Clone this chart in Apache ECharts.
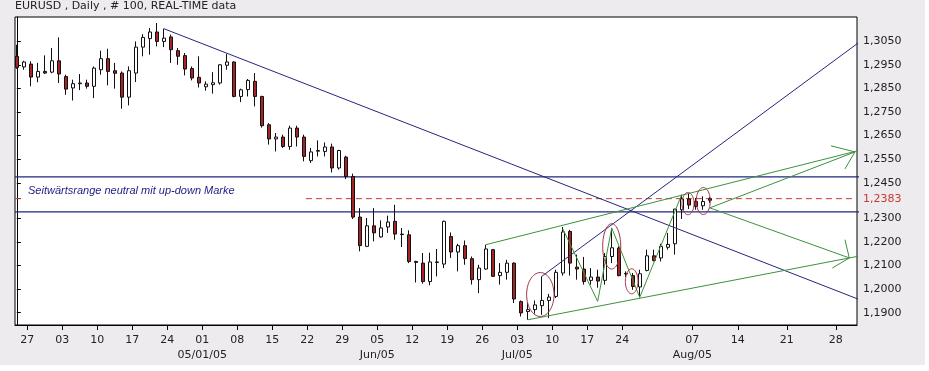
<!DOCTYPE html>
<html><head><meta charset="utf-8">
<script src="https://cdn.jsdelivr.net/npm/echarts@6/dist/echarts.min.js"></script>
<style>
html,body{margin:0;padding:0;background:#fff;}
#bg{position:absolute;left:0;top:0;width:925px;height:365px;background:#eeebee;}
#chart{position:absolute;left:0;top:0;width:929px;height:371px;}
</style></head>
<body><div id="bg"></div><div id="chart"></div>
<script>
// ---- categories: trading days (past) and calendar days (projection area)
const tradingDates = [
 '2005-03-24','2005-03-25',
 '2005-03-28','2005-03-29','2005-03-30','2005-03-31','2005-04-01',
 '2005-04-04','2005-04-05','2005-04-06','2005-04-07','2005-04-08',
 '2005-04-11','2005-04-12','2005-04-13','2005-04-14','2005-04-15',
 '2005-04-18','2005-04-19','2005-04-20','2005-04-21','2005-04-22',
 '2005-04-25','2005-04-26','2005-04-27','2005-04-28','2005-04-29',
 '2005-05-02','2005-05-03','2005-05-04','2005-05-05','2005-05-06',
 '2005-05-09','2005-05-10','2005-05-11','2005-05-12','2005-05-13',
 '2005-05-16','2005-05-17','2005-05-18','2005-05-19','2005-05-20',
 '2005-05-23','2005-05-24','2005-05-25','2005-05-26','2005-05-27',
 '2005-05-30','2005-05-31','2005-06-01','2005-06-02','2005-06-03',
 '2005-06-06','2005-06-07','2005-06-08','2005-06-09','2005-06-10',
 '2005-06-13','2005-06-14','2005-06-15','2005-06-16','2005-06-17',
 '2005-06-20','2005-06-21','2005-06-22','2005-06-23','2005-06-24',
 '2005-06-27','2005-06-28','2005-06-29','2005-06-30','2005-07-01',
 '2005-07-04','2005-07-05','2005-07-06','2005-07-07','2005-07-08',
 '2005-07-11','2005-07-12','2005-07-13','2005-07-14','2005-07-15',
 '2005-07-18','2005-07-19','2005-07-20','2005-07-21','2005-07-22',
 '2005-07-25','2005-07-26','2005-07-27','2005-07-28','2005-07-29',
 '2005-08-01','2005-08-02','2005-08-03','2005-08-04','2005-08-05',
 '2005-08-08','2005-08-09','2005-08-10'
];
const futureDates = [
 '2005-08-11','2005-08-12','2005-08-13','2005-08-14','2005-08-15','2005-08-16','2005-08-17',
 '2005-08-18','2005-08-19','2005-08-20','2005-08-21','2005-08-22','2005-08-23','2005-08-24',
 '2005-08-25','2005-08-26','2005-08-27','2005-08-28','2005-08-29','2005-08-30','2005-08-31'
];

// ---- series values (EURUSD daily OHLC)
const opens = [1.2986,1.2941,1.2953,1.2898,1.2922,1.2919,1.2967,1.2900,1.2852,1.2870,
1.2873,1.2859,1.2929,1.2976,1.2925,1.2915,1.2813,1.2915,1.3025,1.3061,
1.3089,1.3049,1.3068,1.3010,1.2989,1.2934,1.2897,1.2857,1.2866,1.2873,
1.2948,1.2962,1.2816,1.2845,1.2880,1.2816,1.2696,1.2636,1.2644,1.2604,
1.2682,1.2644,1.2544,1.2584,1.2583,1.2602,1.2513,1.2559,1.2477,1.2305,
1.2181,1.2268,1.2221,1.2263,1.2287,1.2233,1.2230,1.2117,1.2110,1.2032,
1.2115,1.2106,1.2223,1.2157,1.2184,1.2129,1.2040,1.2085,1.2167,1.2057,
1.2071,1.2110,1.1947,1.1905,1.1913,1.1930,1.1952,1.1969,1.2068,1.2244,
1.2093,1.2085,1.2037,1.2051,1.2037,1.2138,1.2174,1.2066,1.2057,1.2009,
1.2079,1.2141,1.2132,1.2177,1.2192,1.2336,1.2382,1.2371,1.2353,1.2383];
const closes = [1.2939,1.2962,1.2898,1.2922,1.2915,1.2967,1.2911,1.2847,1.2870,1.2873,
1.2859,1.2936,1.2976,1.2922,1.2914,1.2813,1.2925,1.3025,1.3066,1.3089,
1.3049,1.3063,1.3014,1.2986,1.2932,1.2894,1.2873,1.2868,1.2874,1.2950,
1.2962,1.2816,1.2844,1.2884,1.2816,1.2692,1.2636,1.2644,1.2604,1.2682,
1.2644,1.2562,1.2581,1.2587,1.2602,1.2513,1.2587,1.2477,1.2305,1.2184,
1.2268,1.2238,1.2259,1.2284,1.2233,1.2231,1.2117,1.2113,1.2032,1.2115,
1.2113,1.2287,1.2157,1.2184,1.2129,1.2040,1.2089,1.2170,1.2054,1.2071,
1.2110,1.1958,1.1899,1.1913,1.1933,1.1952,1.1966,1.2071,1.2242,1.2110,
1.2085,1.2032,1.2051,1.2034,1.2138,1.2175,1.2057,1.2064,1.2011,1.2065,
1.2141,1.2121,1.2181,1.2189,1.2339,1.2382,1.2356,1.2350,1.2371,1.2376];
const lows = [1.2933,1.2929,1.2859,1.2876,1.2912,1.2914,1.2873,1.2823,1.2799,1.2843,
1.2849,1.2809,1.2908,1.2863,1.2849,1.2764,1.2778,1.2877,1.2986,1.2993,
1.3028,1.3025,1.2958,1.2950,1.2905,1.2884,1.2854,1.2840,1.2828,1.2866,
1.2929,1.2812,1.2792,1.2816,1.2774,1.2684,1.2612,1.2583,1.2598,1.2590,
1.2604,1.2541,1.2534,1.2562,1.2562,1.2494,1.2506,1.2466,1.2297,1.2160,
1.2178,1.2202,1.2218,1.2238,1.2209,1.2178,1.2110,1.2028,1.2023,1.2016,
1.2054,1.2089,1.2132,1.2075,1.2103,1.2019,1.1983,1.2082,1.2051,1.2019,
1.2040,1.1941,1.1884,1.1870,1.1896,1.1891,1.1877,1.1962,1.2057,1.2057,
1.2040,1.2019,1.2019,1.2006,1.2019,1.2110,1.2054,1.2051,1.1997,1.1965,
1.2075,1.2117,1.2117,1.2167,1.2146,1.2297,1.2339,1.2336,1.2336,1.2365];
const highs = [1.3035,1.2967,1.2965,1.2958,1.2990,1.3021,1.3066,1.2908,1.2887,1.2911,
1.2887,1.2943,1.3010,1.3018,1.2958,1.2922,1.2943,1.3049,1.3080,1.3106,
1.3127,1.3103,1.3078,1.3021,1.3000,1.2943,1.2986,1.2880,1.2919,1.2953,
1.2996,1.2965,1.2849,1.2890,1.2915,1.2819,1.2703,1.2661,1.2654,1.2692,
1.2692,1.2654,1.2598,1.2630,1.2621,1.2616,1.2590,1.2565,1.2489,1.2343,
1.2301,1.2343,1.2291,1.2311,1.2357,1.2259,1.2249,1.2120,1.2153,1.2154,
1.2170,1.2290,1.2240,1.2192,1.2206,1.2138,1.2103,1.2188,1.2170,1.2110,
1.2124,1.2113,1.1952,1.1941,1.1952,1.2054,1.1980,1.2082,1.2263,1.2251,
1.2146,1.2136,1.2089,1.2082,1.2153,1.2259,1.2181,1.2075,1.2068,1.2082,
1.2167,1.2167,1.2192,1.2238,1.2340,1.2400,1.2404,1.2386,1.2393,1.2390];

// ---- tick labels
const tickDates = ['2005-03-27','2005-04-03','2005-04-10','2005-04-17','2005-04-24','2005-05-01',
 '2005-05-08','2005-05-15','2005-05-22','2005-05-29','2005-06-05','2005-06-12','2005-06-19',
 '2005-06-26','2005-07-03','2005-07-10','2005-07-17','2005-07-24','2005-08-07','2005-08-14',
 '2005-08-21','2005-08-28'];
const monthLabels = {'2005-05-01':'05/01/05','2005-06-05':'Jun/05','2005-07-03':'Jul/05','2005-08-07':'Aug/05'};
const yTickValues = [1.19,1.20,1.21,1.22,1.23,1.2383,1.245,1.255,1.265,1.275,1.285,1.295,1.305];
const lastPrice = 1.2383;

// ---- drawing annotations (slot index, price)
const rangeTop = 1.2475, rangeBottom = 1.2327;
const trendDown = [[21,1.3103],[120.84,1.1950]];
const trendUp = [[75,1.2054],[120.31,1.3045]];
const channelUpper = [[67,1.2188],[122.3,1.2602]];
const channelLower = [[73,1.1870],[121.4,1.2146]];
const projUp = [[99,1.2344],[119.74,1.2581]];
const projDown = [[99,1.2344],[118.93,1.2132]];
const arrowUp = [[116.31,1.2607],[119.74,1.2581],[118.31,1.2509]];
const arrowDown = [[116.5,1.2089],[118.93,1.2132],[118.31,1.2209]];
const zigzag = [[78,1.2255],[82.98,1.1948],[84.99,1.2259],[88.99,1.1965],[94.99,1.2400]];
const ellipses = [[74.79,1.1977,1.96,0.0093],[84.99,1.2181,1.29,0.0096],[87.84,1.2033,0.9,0.0053],
                  [95.89,1.2362,0.86,0.0047],[98.07,1.2373,1.0,0.0057]];
const dashedPieces = [[-0.26,0.74],[41.3,119.7]];
const noteText = 'Seitwärtsrange neutral mit up-down Marke';

function slotOf(d){
  let i = tradingDates.indexOf(d);
  if (i >= 0) return i;
  i = futureDates.indexOf(d);
  if (i >= 0) return tradingDates.length + i;
  for (let k = 0; k < tradingDates.length; k++) if (tradingDates[k] > d) return k - 0.5;
  return tradingDates.length - 0.5;
}
const tickSlots = tickDates.map(slotOf);
const tickLabelMap = {};
tickDates.forEach((d, i) => {
  const day = d.slice(8);
  tickLabelMap[tickSlots[i].toFixed(2)] = monthLabels[d] ? day + '\n' + monthLabels[d] : day;
});

const candleData = opens.map((o, i) => [i, o, closes[i], lows[i], highs[i]]);

const NAVY = '#25257f', GREEN = '#3d913d', RED = '#c43a34', ELL = '#a03246';
function seg(data, color, z, extra){
  return Object.assign({type:'line', data:data, symbol:'none', clip:false, silent:true,
    animation:false, z:z, lineStyle:{color:color, width:1}}, extra||{});
}
const series = [];
series.push(seg([[-0.26,rangeTop],[120.9,rangeTop]], NAVY, 1, {lineStyle:{color:NAVY,width:1.3}}));
series.push(seg([[-0.26,rangeBottom],[120.9,rangeBottom]], NAVY, 1, {lineStyle:{color:NAVY,width:1.3}}));
dashedPieces.forEach(p => series.push(seg([[p[0],lastPrice],[p[1],lastPrice]], RED, 1,
  {lineStyle:{color:RED,width:1,type:[6,4]}})));
series.push({type:'candlestick', data:candleData, encode:{x:0,y:[1,2,3,4]}, barWidth:4, z:3,
  animation:false, silent:true,
  itemStyle:{color:'#ffffff', color0:'#a52424', borderColor:'#111', borderColor0:'#111', borderWidth:1}});
series.push(seg(trendDown, NAVY, 5));
series.push(seg(trendUp, NAVY, 5));
[channelUpper, channelLower, projUp, projDown, arrowUp, arrowDown, zigzag].forEach(d => series.push(seg(d, GREEN, 6)));
series.push({type:'custom', data:ellipses, z:7, silent:true, animation:false, clip:false,
  renderItem:function(params, api){
    const c = api.coord([api.value(0), api.value(1)]);
    const s = api.size([api.value(2), api.value(3)]);
    const pts = [];
    for (let k = 0; k < 60; k++){
      const a = k / 60 * Math.PI * 2;
      pts.push([c[0] + s[0]*Math.cos(a), c[1] + s[1]*Math.sin(a)]);
    }
    return {type:'polygon', shape:{points:pts}, style:{fill:'none', stroke:ELL, lineWidth:1}};
  }});

const chart = echarts.init(document.getElementById('chart'), null, {renderer:'canvas'});
chart.setOption({
  animation:false,
  backgroundColor:'transparent',
  title:{text:'EURUSD , Daily , # 100, REAL-TIME data', left:15, top:1, padding:0,
    textStyle:{fontSize:11, fontWeight:'normal', color:'#222', fontFamily:'DejaVu Sans'}},
  grid:{left:15, right:72, top:17, bottom:46, show:true, backgroundColor:'#ffffff',
    borderColor:'#000', borderWidth:1, containLabel:false},
  xAxis:{type:'value', min:-0.257, max:120.03,
    splitLine:{show:false},
    axisLine:{show:true, onZero:false, lineStyle:{color:'#000', width:1}},
    axisTick:{show:true, length:5, customValues:tickSlots, lineStyle:{color:'#000'}},
    axisLabel:{show:true, customValues:tickSlots, margin:8, fontSize:11, lineHeight:15,
      color:'#222', fontFamily:'DejaVu Sans',
      formatter:function(v){ return tickLabelMap[(+v).toFixed(2)] || ''; }}},
  yAxis:{type:'value', position:'right', min:1.18479, max:1.31525, scale:true,
    splitLine:{show:false},
    axisLine:{show:true, lineStyle:{color:'#000', width:1}},
    axisTick:{show:true, length:4, customValues:yTickValues, lineStyle:{color:'#000'}},
    axisLabel:{show:true, customValues:yTickValues, margin:6, fontSize:11, color:'#222',
      fontFamily:'DejaVu Sans',
      formatter:function(v){
        const s = (+v).toFixed(4).replace('.', ',');
        return Math.abs(v - lastPrice) < 1e-6 ? '{r|' + s + '}' : s;
      },
      rich:{r:{color:RED, fontSize:11, fontFamily:'DejaVu Sans'}}}},
  graphic:[{type:'text', x:28, y:191, silent:true, z:10,
    style:{text:noteText, font:'italic 11px "Liberation Sans", Arial, sans-serif',
      fill:'#1c1c86', verticalAlign:'middle', align:'left'}}],
  series:series
});
</script></body></html>
